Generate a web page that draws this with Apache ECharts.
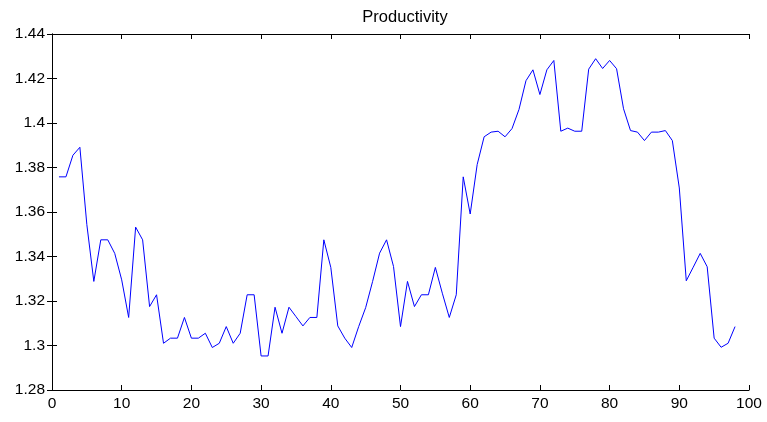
<!DOCTYPE html>
<html>
<head>
<meta charset="utf-8">
<script src="https://cdn.jsdelivr.net/npm/echarts@6/dist/echarts.min.js"></script>
<style>html,body{margin:0;padding:0;background:#fff;}#c{width:767px;height:422px;}</style>
</head>
<body>
<div id="c"></div>
<script>
var titleText = "Productivity";
var xValues = [];
for (var i = 1; i <= 98; i++) xValues.push(i);
var productivity = [
 1.3758,1.3758,1.3855,1.3891,1.3543,1.3288,1.3475,1.3475,1.3414,1.3295,
 1.3126,1.3532,1.3475,1.3175,1.3228,1.3010,1.3033,1.3033,1.3126,1.3033,
 1.3033,1.3055,1.2991,1.3010,1.3085,1.3010,1.3055,1.3228,1.3228,1.2953,
 1.2953,1.3172,1.3055,1.3172,1.3130,1.3088,1.3126,1.3126,1.3475,1.3351,
 1.3088,1.3033,1.2991,1.3085,1.3170,1.3288,1.3415,1.3475,1.3355,1.3085,
 1.3288,1.3175,1.3228,1.3228,1.3351,1.3235,1.3126,1.3228,1.3758,1.3591,
 1.3813,1.3938,1.3959,1.3963,1.3938,1.3975,1.4061,1.4190,1.4239,1.4128,
 1.4239,1.4281,1.3963,1.3977,1.3963,1.3963,1.4242,1.4289,1.4245,1.4281,
 1.4244,1.4064,1.3966,1.3959,1.3921,1.3959,1.3959,1.3966,1.3921,1.3708,
 1.3291,1.3352,1.3414,1.3354,1.3033,1.2992,1.3010,1.3085
];
var xMin = 0, xMax = 100, xStep = 10;
var yMin = 1.28, yMax = 1.44, yStep = 0.02;

var data = xValues.map(function (x, i) { return [x, productivity[i]]; });
var font = "Liberation Sans, Arial, Helvetica, sans-serif";
var chart = echarts.init(document.getElementById('c'), null, {renderer: 'canvas'});
var axLine = {show: true, lineStyle: {color: '#000', width: 1}};
var tick = {show: true, inside: true, length: 5, lineStyle: {color: '#000', width: 1}};
function yfmt(v) { return String(parseFloat(v.toFixed(2))); }
chart.setOption({
  animation: false,
  backgroundColor: '#fff',
  title: {
    text: titleText, left: 400, top: 4, textAlign: 'center',
    textStyle: {fontFamily: font, fontSize: 16.5, fontWeight: 'normal', color: '#000'}
  },
  grid: {left: 52, right: 18, top: 34, bottom: 32, containLabel: false},
  xAxis: [
    {type: 'value', min: xMin, max: xMax, interval: xStep, position: 'bottom',
     axisLine: axLine, axisTick: tick, splitLine: {show: false},
     axisLabel: {color: '#000', fontFamily: font, fontSize: 15.5, margin: 6}},
    {type: 'value', min: xMin, max: xMax, interval: xStep, position: 'top',
     axisLine: axLine, axisTick: tick, splitLine: {show: false}, axisLabel: {show: false}}
  ],
  yAxis: [
    {type: 'value', min: yMin, max: yMax, interval: yStep, position: 'left',
     axisLine: axLine, axisTick: tick, splitLine: {show: false},
     axisLabel: {color: '#000', fontFamily: font, fontSize: 15.5, margin: 7, formatter: yfmt}},
    {type: 'value', min: yMin, max: yMax, interval: yStep, position: 'right',
     axisLine: axLine, axisTick: tick, splitLine: {show: false}, axisLabel: {show: false}}
  ],
  series: [{
    type: 'line', data: data, xAxisIndex: 0, yAxisIndex: 0,
    showSymbol: false, symbol: 'none',
    lineStyle: {color: '#0000ff', width: 1}, itemStyle: {color: '#0000ff'}
  }]
});
</script>
</body>
</html>
